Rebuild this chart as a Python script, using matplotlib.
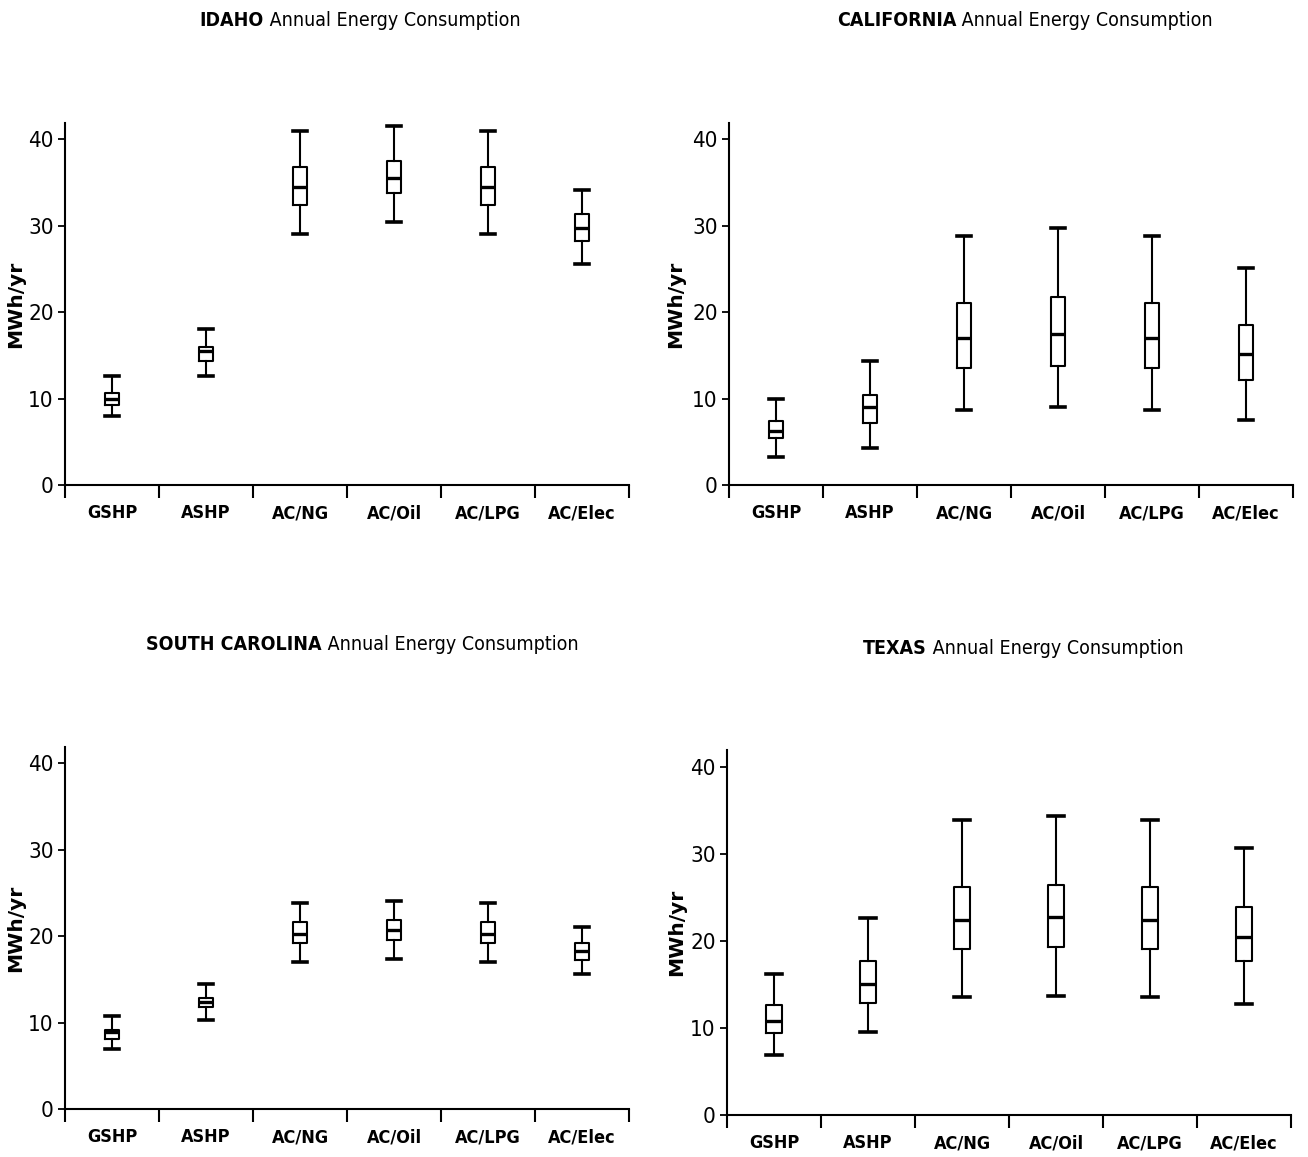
import matplotlib
matplotlib.use("Agg")
import matplotlib.pyplot as plt
from matplotlib.ticker import FixedLocator, NullFormatter

plt.rcParams["font.family"] = ["DejaVu Sans"]
plt.rcParams["font.stretch"] = "condensed"

systems = ["GSHP", "ASHP", "AC/NG", "AC/Oil", "AC/LPG", "AC/Elec"]
yticks = [0, 10, 20, 30, 40]

# MWh/yr: lower whisker, lower quartile, median, upper quartile, upper whisker
idaho_lo = [8.0, 12.6, 29.1, 30.4, 29.1, 25.6]
idaho_q1 = [9.3, 14.4, 32.4, 33.8, 32.4, 28.2]
idaho_med = [9.9, 15.5, 34.5, 35.5, 34.5, 29.7]
idaho_q3 = [10.7, 16.0, 36.8, 37.5, 36.8, 31.4]
idaho_hi = [12.6, 18.1, 41.0, 41.5, 41.0, 34.1]

calif_lo = [3.2, 4.3, 8.7, 9.0, 8.7, 7.5]
calif_q1 = [5.4, 7.2, 13.5, 13.8, 13.5, 12.1]
calif_med = [6.2, 9.0, 17.0, 17.5, 17.0, 15.2]
calif_q3 = [7.4, 10.4, 21.1, 21.8, 21.1, 18.5]
calif_hi = [10.0, 14.3, 28.8, 29.7, 28.8, 25.1]

scar_lo = [7.0, 10.3, 17.0, 17.4, 17.0, 15.6]
scar_q1 = [8.1, 11.8, 19.2, 19.6, 19.2, 17.3]
scar_med = [8.9, 12.4, 20.3, 20.7, 20.3, 18.3]
scar_q3 = [9.2, 12.9, 21.7, 21.9, 21.7, 19.2]
scar_hi = [10.8, 14.5, 23.9, 24.1, 23.9, 21.1]

texas_lo = [6.9, 9.5, 13.5, 13.7, 13.5, 12.7]
texas_q1 = [9.4, 12.9, 19.1, 19.3, 19.1, 17.7]
texas_med = [10.8, 15.0, 22.4, 22.7, 22.4, 20.4]
texas_q3 = [12.6, 17.7, 26.2, 26.4, 26.2, 23.9]
texas_hi = [16.2, 22.6, 33.9, 34.3, 33.9, 30.6]

W, H = 1308, 1157
fig = plt.figure(figsize=(W / 100, H / 100), dpi=100)


def px_axes(x0, x1, y0, y1):
    # axes rectangle from pixel edges (y measured from top)
    return fig.add_axes([x0 / W, (H - y1) / H, (x1 - x0) / W, (y1 - y0) / H])


panels = [
    ("IDAHO", px_axes(65, 629, 123, 485), (idaho_lo, idaho_q1, idaho_med, idaho_q3, idaho_hi),
     0.14, (360, 20), -0.070),
    ("CALIFORNIA", px_axes(729, 1293, 123, 485), (calif_lo, calif_q1, calif_med, calif_q3, calif_hi),
     0.14, (1025, 20), -0.077),
    ("SOUTH CAROLINA", px_axes(65, 629, 747, 1109), (scar_lo, scar_q1, scar_med, scar_q3, scar_hi),
     0.14, (362, 644), -0.070),
    ("TEXAS", px_axes(727, 1291, 750, 1115), (texas_lo, texas_q1, texas_med, texas_q3, texas_hi),
     0.16, (1023, 649), -0.073),
]

title_parts = []
for state, ax, (lo, q1, med, q3, hi), bw, tpos, ylab_x in panels:
    stats = []
    for i, name in enumerate(systems):
        stats.append(dict(label=name, whislo=lo[i], q1=q1[i], med=med[i], q3=q3[i], whishi=hi[i], fliers=[]))
    ax.bxp(stats, positions=[i + 0.5 for i in range(len(systems))], widths=bw, capwidths=bw + 0.01,
           showfliers=False, manage_ticks=False,
           boxprops=dict(color="black", linewidth=1.5),
           whiskerprops=dict(color="black", linewidth=1.5),
           capprops=dict(color="black", linewidth=2.6),
           medianprops=dict(color="black", linewidth=2.4))

    ax.set_xlim(0, len(systems))
    ax.set_ylim(0, 41.9)
    for side in ["top", "right"]:
        ax.spines[side].set_visible(False)
    for side in ["left", "bottom"]:
        ax.spines[side].set_linewidth(1.5)

    ax.set_yticks(yticks)
    ax.set_yticklabels([str(v) for v in yticks], fontsize=16)
    ax.tick_params(axis="y", length=5, width=1.3, pad=3)

    # category boundaries as major ticks, names centred between them
    ax.xaxis.set_major_locator(FixedLocator(range(len(systems) + 1)))
    ax.xaxis.set_major_formatter(NullFormatter())
    ax.xaxis.set_minor_locator(FixedLocator([i + 0.5 for i in range(len(systems))]))
    ax.set_xticklabels(systems, minor=True, fontsize=13, fontweight="bold")
    ax.tick_params(axis="x", which="major", length=9, width=1.5)
    ax.tick_params(axis="x", which="minor", length=0, pad=14)

    ax.set_ylabel("MWh/yr", fontsize=14.5, fontweight="bold", fontstretch="normal")
    ax.yaxis.set_label_coords(ylab_x, 0.5)

    bold = fig.text(0, 1 - tpos[1] / H, state, fontsize=14, fontweight="bold", va="center", ha="left")
    rest = fig.text(0, 1 - tpos[1] / H, " Annual Energy Consumption", fontsize=14, va="center", ha="left")
    title_parts.append((bold, rest, tpos[0]))

# centre each two-part title on its x position
renderer = fig.canvas.get_renderer()
for bold, rest, xc in title_parts:
    wb = bold.get_window_extent(renderer).width
    wr = rest.get_window_extent(renderer).width
    x0 = xc - (wb + wr) / 2
    bold.set_x(x0 / W)
    rest.set_x((x0 + wb) / W)

fig.savefig("out.png", dpi=100, facecolor="white")
